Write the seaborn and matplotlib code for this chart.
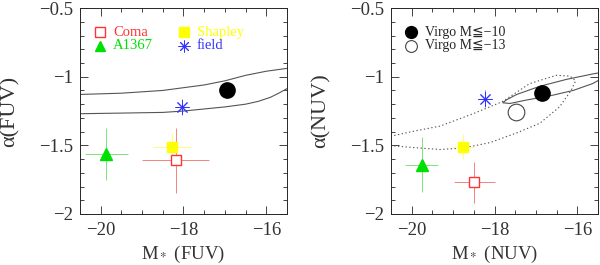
import matplotlib
matplotlib.use("Agg")
import matplotlib.pyplot as plt
from matplotlib.ticker import MultipleLocator
import seaborn as sns

# luminosity function parameters, FUV panel
fuv_samples = ["Coma", "Shapley", "A1367", "field"]
fuv_mstar = [-18.19, -18.28, -19.86, -18.03]
fuv_alpha = [-1.61, -1.51, -1.56, -1.22]
fuv_mstar_err = [0.8, 0.45, 0.52, 0.05]
fuv_alpha_err = [0.24, 0.10, 0.19, 0.06]
fuv_virgo = (-16.94, -1.10)

# NUV panel
nuv_samples = ["Coma", "Shapley", "A1367", "field"]
nuv_mstar = [-18.49, -18.76, -19.76, -18.23]
nuv_alpha = [-1.77, -1.51, -1.64, -1.16]
nuv_mstar_err = [0.5, 0.25, 0.40, 0.05]
nuv_alpha_err = [0.15, 0.09, 0.20, 0.06]
nuv_virgo10 = (-16.86, -1.12)
nuv_virgo13 = (-17.49, -1.26)

# Virgo confidence contours
fuv_cont_up_x = [-20.6, -19.5, -18.5, -18.0, -17.5, -17.0, -16.5, -16.0, -15.4]
fuv_cont_up_y = [-1.13, -1.12, -1.10, -1.08, -1.06, -1.03, -0.99, -0.96, -0.935]
fuv_cont_lo_x = [-20.6, -19.5, -18.5, -18.0, -17.5, -17.0, -16.5, -16.2, -15.9, -15.7, -15.4]
fuv_cont_lo_y = [-1.27, -1.265, -1.26, -1.25, -1.235, -1.22, -1.20, -1.18, -1.15, -1.12, -1.07]

nuv_solid_x = [-15.45, -15.63, -16.27, -16.91, -17.47, -17.72, -17.80, -17.63, -17.23, -16.67, -16.10, -15.63, -15.45]
nuv_solid_y = [-0.97, -0.98, -1.02, -1.07, -1.13, -1.17, -1.19, -1.195, -1.17, -1.14, -1.10, -1.05, -1.02]

nuv_dot_x = [-20.6, -20.0, -19.32, -18.52, -17.80, -17.15, -16.51, -16.18, -16.04, -16.15,
             -16.43, -16.91, -17.47, -18.11, -18.76, -19.32, -20.0, -20.6]
nuv_dot_y = [-1.44, -1.40, -1.36, -1.27, -1.18, -1.05, -0.99, -0.995, -1.03, -1.10,
             -1.22, -1.34, -1.41, -1.48, -1.52, -1.53, -1.515, -1.50]

colors = {"Coma": "#ff3333", "Shapley": "#ffff00", "A1367": "#00e000", "field": "#3333ff"}
bar_colors = {"Coma": "#f07070", "Shapley": "#ffff66", "A1367": "#66e066", "field": "#6666ff"}
markers = {"Coma": "s", "Shapley": "s", "A1367": "^", "field": (8, 2, 0)}
msizes = {"Coma": 7, "Shapley": 7.5, "A1367": 8.5, "field": 10}

sns.set_style("ticks")
plt.rcParams["font.family"] = ["Liberation Serif", "DejaVu Sans"]
plt.rcParams["mathtext.fontset"] = "stix"

fig = plt.figure(figsize=(6, 2.65), dpi=100)
ax1 = fig.add_axes([0.1333, 0.1925, 0.345, 0.777])
ax2 = fig.add_axes([0.6517, 0.1925, 0.345, 0.777])


def draw_points(ax, names, xs, ys, xe, ye):
    for n, x, y, dx, dy in zip(names, xs, ys, xe, ye):
        c = colors[n]
        ax.errorbar(x, y, xerr=dx, yerr=dy, fmt="none", ecolor=bar_colors[n], elinewidth=0.6, capsize=0, zorder=2)
        if n == "Coma":
            ax.plot(x, y, marker="s", ms=msizes[n], markerfacecolor="white", markeredgecolor=c,
                    markeredgewidth=1.0, ls="none", zorder=3)
        elif n == "field":
            ax.plot(x, y, marker=markers[n], ms=msizes[n], color=c, markeredgecolor=c,
                    markeredgewidth=0.7, ls="none", zorder=3)
        else:
            ax.plot(x, y, marker=markers[n], ms=msizes[n], color=c, markeredgecolor=c, ls="none", zorder=3)


# left panel
sns.lineplot(x=fuv_cont_up_x, y=fuv_cont_up_y, sort=False, estimator=None, color="#555555", lw=0.8, ax=ax1)
sns.lineplot(x=fuv_cont_lo_x, y=fuv_cont_lo_y, sort=False, estimator=None, color="#555555", lw=0.8, ax=ax1)
draw_points(ax1, fuv_samples, fuv_mstar, fuv_alpha, fuv_mstar_err, fuv_alpha_err)
ax1.plot(*fuv_virgo, marker="o", ms=11, color="black", ls="none", zorder=4)

# right panel
sns.lineplot(x=nuv_solid_x, y=nuv_solid_y, sort=False, estimator=None, color="#555555", lw=0.8, ax=ax2)
sns.lineplot(x=nuv_dot_x, y=nuv_dot_y, sort=False, estimator=None, color="#555555", lw=0.8,
             ls=(0, (1.2, 2.2)), ax=ax2)
draw_points(ax2, nuv_samples, nuv_mstar, nuv_alpha, nuv_mstar_err, nuv_alpha_err)
ax2.plot(*nuv_virgo10, marker="o", ms=11, color="black", ls="none", zorder=4)
ax2.plot(*nuv_virgo13, marker="o", ms=12, markerfacecolor="white", markeredgecolor="#444444",
         markeredgewidth=0.8, ls="none", zorder=4)

# in-panel keys
tk = dict(transform=ax1.transAxes, fontsize=10.5, va="center")
key1 = [("Coma", 0.097, 0.882), ("A1367", 0.097, 0.818), ("Shapley", 0.502, 0.882), ("field", 0.502, 0.818)]
for n, kx, ky in key1:
    if n == "Coma":
        ax1.plot(kx, ky, transform=ax1.transAxes, marker="s", ms=6.5, markerfacecolor="white",
                 markeredgecolor=colors[n], markeredgewidth=1.0)
    elif n == "field":
        ax1.plot(kx, ky, transform=ax1.transAxes, marker=markers[n], ms=8.5, color=colors[n],
                 markeredgecolor=colors[n], markeredgewidth=0.7)
    else:
        ax1.plot(kx, ky, transform=ax1.transAxes, marker=markers[n], ms=7, color=colors[n],
                 markeredgecolor=colors[n])
    ax1.text(kx + 0.062, ky, n, color=colors[n], **tk)

ax2.plot(0.097, 0.882, transform=ax2.transAxes, marker="o", ms=8.5, color="black")
ax2.plot(0.097, 0.818, transform=ax2.transAxes, marker="o", ms=8.5, markerfacecolor="white",
         markeredgecolor="#444444", markeredgewidth=0.8)
ax2.text(0.165, 0.882, "Virgo M≦−10", transform=ax2.transAxes, fontsize=10, va="center")
ax2.text(0.165, 0.818, "Virgo M≦−13", transform=ax2.transAxes, fontsize=10, va="center")

for ax, band in [(ax1, "FUV"), (ax2, "NUV")]:
    ax.set_xlim(-20.5, -15.5)
    ax.set_ylim(-2, -0.5)
    ax.xaxis.set_minor_locator(MultipleLocator(0.5))
    ax.yaxis.set_minor_locator(MultipleLocator(0.1))
    ax.set_yticks([-2, -1.5, -1, -0.5])
    ax.set_yticklabels(["−2", "−1.5", "−1", "−0.5"])
    ax.set_xticks([-20, -18, -16])
    ax.set_xticklabels(["−20", "−18", "−16"])
    ax.tick_params(which="both", direction="in", top=True, right=True, labelsize=13.5, width=0.6,
                   labelcolor="#333333")
    ax.tick_params(which="major", length=6)
    ax.tick_params(axis="x", which="major", pad=6)
    ax.tick_params(axis="y", which="major", pad=5)
    ax.tick_params(which="minor", length=3)
    for s in ax.spines.values():
        s.set_linewidth(0.7)
    ax.set_xlabel("M$_*$ (" + band + ")", fontsize=13.5, labelpad=3, color="#333333")
    ax.set_ylabel("α(" + band + ")", fontsize=16, labelpad=14, color="#333333")

fig.savefig("out.png", dpi=100)
